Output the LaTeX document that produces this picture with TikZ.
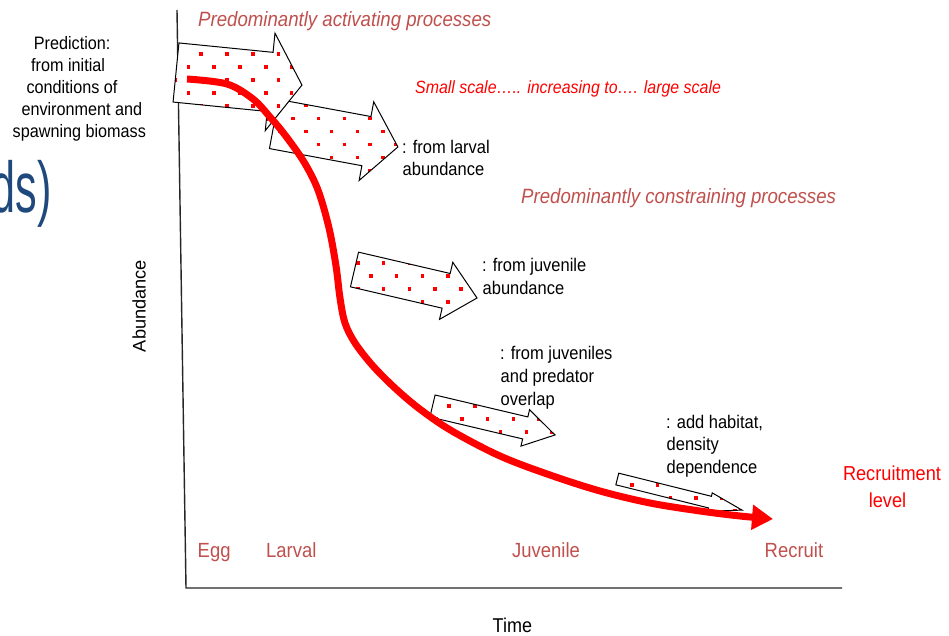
\documentclass[tikz,border=0pt]{standalone}
\usepackage{fontspec}
\setmainfont[FakeStretch=0.9]{Liberation Sans}
\newfontfamily\plainsans{Liberation Sans}
\newfontfamily\titlefont[FakeStretch=0.6]{Liberation Sans}
\usetikzlibrary{arrows.meta}

\definecolor{labelbrown}{RGB}{192,80,77}
\definecolor{titleblue}{RGB}{31,73,125}
\definecolor{dotred}{RGB}{255,0,0}

\tikzset{
  lbl/.style={inner sep=0pt, anchor=base west},
  stage/.style={lbl, text=labelbrown, font=\fontsize{20.5}{24}\selectfont},
  heading/.style={lbl, text=labelbrown, font=\fontsize{20.7}{24}\selectfont\itshape},
  note/.style={lbl, text=black, font=\fontsize{18.3}{22}\selectfont},
  predline/.style={lbl, text=black, font=\fontsize{18}{22}\selectfont},
  axisline/.style={draw=black!85, line width=1.4pt},
  arrowline/.style={draw=black, line width=1pt, line join=miter},
  growth/.style={draw=red, line width=7pt, line cap=butt},
}

% corner coordinates of a slanted block arrow:
% #1 name, #2 #3 tail centre, #4 slope (deg, downward), #5 length,
% #6 half body width, #7 half head width, #8 head length
\newcommand\arrowshape[8]{%
  \begin{scope}[shift={(#2,#3)},rotate=-#4]
    \coordinate (#1-1) at (0,-#6);
    \coordinate (#1-2) at ({#5-#8},-#6);
    \coordinate (#1-3) at ({#5-#8},-#7);
    \coordinate (#1-4) at (#5,0);
    \coordinate (#1-5) at ({#5-#8},#7);
    \coordinate (#1-6) at ({#5-#8},#6);
    \coordinate (#1-7) at (0,#6);
  \end{scope}}

% white block arrow with a staggered grid of red dots; #2 #3 grid origin
\newcommand\arrowbody[3]{%
  \fill[white] (#1-1) -- (#1-2) -- (#1-3) -- (#1-4) -- (#1-5) -- (#1-6) -- (#1-7) -- cycle;
  \begin{scope}
    \clip (#1-1) -- (#1-2) -- (#1-3) -- (#1-4) -- (#1-5) -- (#1-6) -- (#1-7) -- cycle;
    \foreach \j in {-6,...,6}{
      \pgfmathtruncatemacro\rowshift{mod(\j+100,2)}
      \foreach \i in {-12,-10,...,12}{
        \fill[dotred] ({#2+12.9*(\i+\rowshift)-1.8},{#3+13*\j-1.8}) rectangle ++(3.6,3.6);
      }
    }
  \end{scope}
  \draw[arrowline] (#1-1) -- (#1-2) -- (#1-3) -- (#1-4) -- (#1-5) -- (#1-6) -- (#1-7) -- cycle;}

\begin{document}
\begin{tikzpicture}[x=1pt,y=-1pt]
\useasboundingbox[fill=white] (0,0) rectangle (949,636);

% title fragment at the left edge
\node[name=titlefrag, inner sep=0pt, anchor=base west, text=titleblue,
      font=\titlefont\fontsize{72}{72}\selectfont] at (-8.4,213) {ds)};

% axes
\coordinate (ytop) at (177,10);
\coordinate (origin) at (186,588);
\coordinate (xend) at (842,588);
\draw[axisline] (ytop) -- (origin) -- (xend);

% block arrows
\arrowshape{larvalarrow}{274}{124}{10.5}{126}{25}{40}{32}
\arrowshape{eggarrow}{176}{72.5}{5.7}{126.6}{29.7}{49}{32}
\arrowshape{juvarrow}{354.5}{269.5}{13.1}{125.8}{17.8}{29.3}{31.7}
\arrowshape{predarrow}{432.5}{406}{13.3}{125.9}{11.3}{18.7}{30.6}
\arrowshape{habarrow}{617.3}{479}{14}{128.5}{6}{9.5}{33}

\arrowbody{larvalarrow}{305.7}{131.7}
\arrowbody{eggarrow}{188.3}{67.3}
\arrowbody{juvarrow}{370.7}{276}
\arrowbody{predarrow}{436}{419}
\arrowbody{habarrow}{631.7}{485}

% abundance curve
\draw[growth, -{Triangle[length=21pt,width=24pt]}]
  plot[smooth, tension=0.55] coordinates {
    (187,79) (227,84) (253,99) (270,117) (285,135) (304,162) (318,190)
    (329,228) (336,266) (340,298) (345,323) (355,343) (373,366) (396,389)
    (421,410) (452,431) (500,456) (550,475) (600,491) (650,503) (700,511)
    (740,516) (773,519)};

% headings
\node[heading, name=hdact] at (198,27) {Predominantly activating processes};
\node[lbl, name=hdscale, text=red, font=\fontsize{17.7}{22}\selectfont\itshape]
  at (415,94) {Small scale….. increasing to…. large scale};
\node[heading, name=hdcons] at (521,204) {Predominantly constraining processes};

% prediction text
\node[predline, name=pred1] at (33.7,50) {Prediction:};
\node[predline, name=pred2] at (31,72) {from initial};
\node[predline, name=pred3] at (26.3,94) {conditions of};
\node[predline, name=pred4] at (21.3,116) {environment and};
\node[predline, name=pred5] at (12.5,138) {spawning biomass};

% arrow notes
\node[note, name=n1a] at (402,154) {: from larval};
\node[note, name=n1b] at (402.5,176) {abundance};
\node[note, name=n2a] at (482,271) {: from juvenile};
\node[note, name=n2b] at (482.5,294) {abundance};
\node[note, name=n3a] at (500,359) {: from juveniles};
\node[note, name=n3b] at (500.5,382) {and predator};
\node[note, name=n3c] at (500.5,405) {overlap};
\node[note, name=n4a] at (666,428) {: add habitat,};
\node[note, name=n4b] at (666.5,450) {density};
\node[note, name=n4c] at (666.5,473) {dependence};

% recruitment level
\node[inner sep=0pt, anchor=base, text=red, font=\fontsize{20.2}{24}\selectfont,
      name=reclvl1] at (892,480) {Recruitment};
\node[inner sep=0pt, anchor=base, text=red, font=\fontsize{20.2}{24}\selectfont,
      name=reclvl2] at (887.5,507) {level};

% life stages
\node[stage, name=egg] at (197.5,557) {Egg};
\node[stage, name=larval] at (266,557) {Larval};
\node[stage, name=juvenile] at (512,557) {Juvenile};
\node[stage, name=recruit] at (764.5,557) {Recruit};

% axis titles
\node[inner sep=0pt, rotate=90, font=\plainsans\fontsize{18.2}{22}\selectfont,
      name=ylabel] at (139,306) {Abundance};
\node[lbl, font=\fontsize{20}{24}\selectfont, name=xlabel] at (492.5,632.5) {Time};
\end{tikzpicture}
\end{document}
